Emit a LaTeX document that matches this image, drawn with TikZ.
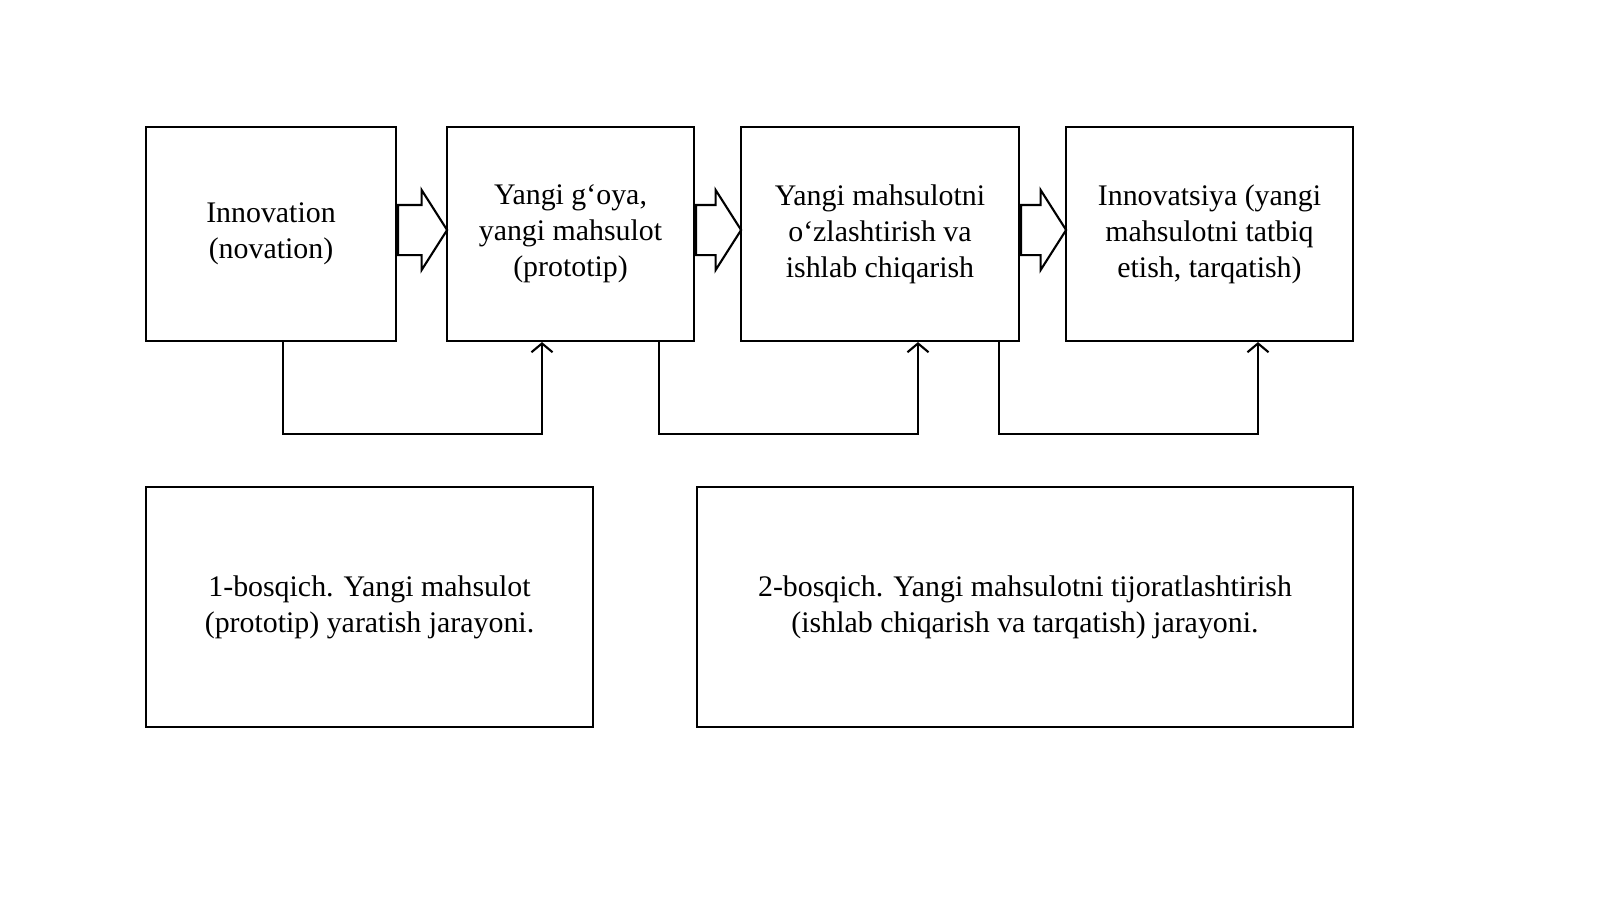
\documentclass[tikz,border=0pt]{standalone}
\usepackage{fontspec}
\setmainfont{Liberation Serif}
\usetikzlibrary{shapes.arrows,calc,arrows.meta}

\begin{document}
\begin{tikzpicture}[
    thick,
    font=\fontsize{17}{20.5}\selectfont
]

% Styles
\tikzset{
    stage/.style={draw, line width=1.2pt, align=center, minimum height=4.28cm},
    phase/.style={draw, line width=1.2pt, align=center, minimum height=4.8cm},
    flow/.style={single arrow, draw, line width=1.2pt, minimum width=1.56cm,
        single arrow head extend=0.3cm, single arrow tip angle=115,
        inner xsep=0pt, inner ysep=0.48cm, anchor=west},
    link/.style={draw, line width=1.2pt, -{Straight Barb[length=5pt,width=12pt]}}
}

% Nodes
\node[stage, minimum width=5cm] (innov) at (5.42,-4.68) {Innovation\\(novation)};
\node[stage, minimum width=4.94cm] (proto) at (11.41,-4.68) {Yangi g‘oya,\\yangi mahsulot\\(prototip)};
\node[stage, minimum width=5.56cm] (prod) at (17.6,-4.68) {Yangi mahsulotni\\o‘zlashtirish va\\ishlab chiqarish};
\node[stage, minimum width=5.74cm] (diff) at (24.19,-4.68) {Innovatsiya (yangi\\mahsulotni tatbiq\\etish, tarqatish)};

\node[phase, minimum width=8.94cm] (phase1) at (7.39,-12.14) {1-bosqich. Yangi mahsulot\\(prototip) yaratish jarayoni.};
\node[phase, minimum width=13.12cm] (phase2) at (20.5,-12.14) {2-bosqich. Yangi mahsulotni tijoratlashtirish\\(ishlab chiqarish va tarqatish) jarayoni.};

% Block arrows
\node[flow, minimum height=0.98cm] (f1) at ($(innov.east)+(0,0.08)$) {};
\node[flow, minimum height=0.9cm] (f2) at ($(proto.east)+(0,0.08)$) {};
\node[flow, minimum height=0.9cm] (f3) at ($(prod.east)+(0,0.08)$) {};

% Connections
\path[link] ($(innov.south)+(0.24,0)$) -- ++(0,-1.84) -| ($(proto.south)+(-0.57,0)$);
\path[link] ($(proto.south)+(1.77,0)$) -- ++(0,-1.84) -| ($(prod.south)+(0.76,0)$);
\path[link] ($(prod.south)+(2.38,0)$) -- ++(0,-1.84) -| ($(diff.south)+(0.97,0)$);

\pgfresetboundingbox
\useasboundingbox (0,0) rectangle (32,-17.98);
\end{tikzpicture}
\end{document}
